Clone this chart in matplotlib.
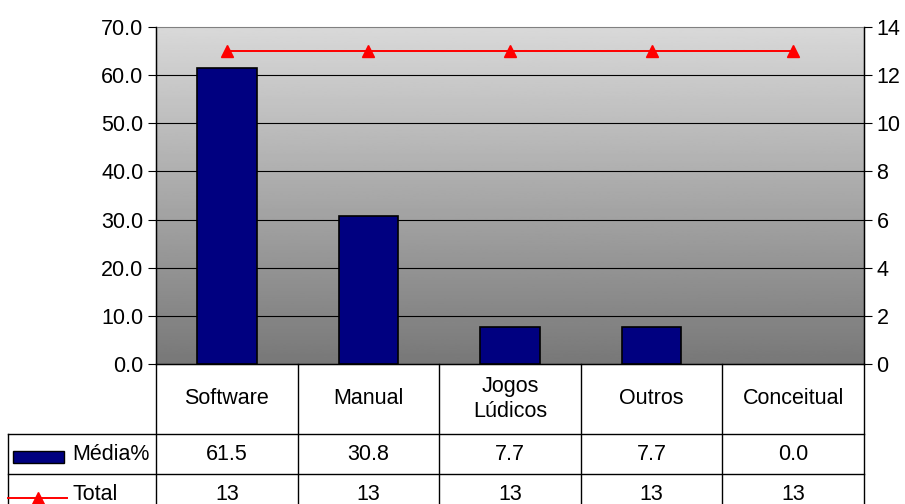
import numpy as np
import matplotlib
matplotlib.use("Agg")
import matplotlib.pyplot as plt
from matplotlib.lines import Line2D
from matplotlib.patches import Rectangle

categories = ["Software", "Manual", "Jogos\nLúdicos", "Outros", "Conceitual"]
media = [61.5, 30.8, 7.7, 7.7, 0.0]
total = [13, 13, 13, 13, 13]
media_labels = ["61.5", "30.8", "7.7", "7.7", "0.0"]
total_labels = ["13", "13", "13", "13", "13"]

plt.rcParams["font.family"] = ["Liberation Sans", "DejaVu Sans"]
FS = 15.5

W, H = 905, 504
fig = plt.figure(figsize=(W / 100, H / 100), dpi=100)
fig.patch.set_facecolor("white")

x0, x1, ytop, ybot = 156, 864, 27, 364
ax = fig.add_axes([x0 / W, (H - ybot) / H, (x1 - x0) / W, (ybot - ytop) / H])

def yfrac(py):
    # figure pixel row -> axes fraction
    return (ybot - py) / (ybot - ytop)

# gradient background
grad = np.linspace(0.47, 0.85, 256).reshape(-1, 1)
ax.imshow(grad, extent=[0, 1, 0, 1], transform=ax.transAxes, cmap="gray",
          vmin=0, vmax=1, aspect="auto", origin="lower", zorder=0)

n = len(categories)
x = np.arange(n)
edges = ["black" if v > 0 else "none" for v in media]
ax.bar(x, media, width=0.42, color="#000080", edgecolor=edges, linewidth=1.2, zorder=3)
ax.set_xlim(-0.5, n - 0.5)
ax.set_ylim(0, 70)
ax.set_yticks(np.arange(0, 71, 10))
ax.set_yticklabels([f"{v:.1f}" for v in np.arange(0, 71, 10)], fontsize=FS)
ax.set_xticks([])
for v in range(10, 70, 10):
    ax.axhline(v, color="black", lw=0.8, zorder=1)
ax.tick_params(axis="y", direction="out", length=6, width=0.8, pad=3)
ax.spines["top"].set_color("#808080")
for s in ["left", "bottom", "right"]:
    ax.spines[s].set_color("black")
    ax.spines[s].set_linewidth(1.0)

ax2 = ax.twinx()
ax2.plot(x, total, color="red", lw=1.4, marker="^", markersize=9, zorder=4)
ax2.set_ylim(0, 14)
ax2.set_yticks(np.arange(0, 15, 2))
ax2.set_yticklabels([str(v) for v in range(0, 15, 2)], fontsize=FS)
ax2.tick_params(axis="y", direction="out", length=6, width=0.8, pad=3)
ax2.spines["top"].set_visible(False)
ax2.spines["right"].set_color("black")

# data table below the plot
r1, r2, r3 = 434, 474, 504
kw = dict(transform=ax.transAxes, color="black", lw=1.0, clip_on=False)
tx = lambda px: (px - x0) / (x1 - x0)
ax.add_line(Line2D([tx(8), 1], [yfrac(r1), yfrac(r1)], **kw))
ax.add_line(Line2D([tx(8), 1], [yfrac(r2), yfrac(r2)], **kw))
ax.add_line(Line2D([tx(8), tx(8)], [yfrac(r1), yfrac(r3 + 5)], **kw))
for i in range(n + 1):
    xf = i / n
    ax.add_line(Line2D([xf, xf], [0, yfrac(r3 + 5)], **kw))

for i in range(n):
    xc = (i + 0.5) / n
    ax.text(xc, yfrac((ybot + r1) / 2), categories[i], transform=ax.transAxes,
            ha="center", va="center", fontsize=FS, linespacing=1.25)
    ax.text(xc, yfrac((r1 + r2) / 2), media_labels[i], transform=ax.transAxes,
            ha="center", va="center", fontsize=FS)
    ax.text(xc, yfrac(494), total_labels[i], transform=ax.transAxes,
            ha="center", va="center", fontsize=FS)

# legend keys in table
ax.add_patch(Rectangle((tx(13), yfrac(463)), tx(64) - tx(13), yfrac(451) - yfrac(463),
                       transform=ax.transAxes, facecolor="#000080", edgecolor="black",
                       lw=1.0, clip_on=False))
ax.text(tx(72), yfrac(455), "Média%", transform=ax.transAxes, ha="left", va="center", fontsize=FS)
ax.add_line(Line2D([tx(8), tx(67)], [yfrac(498), yfrac(498)], transform=ax.transAxes,
                   color="red", lw=1.4, clip_on=False))
ax.add_line(Line2D([tx(38)], [yfrac(498)], transform=ax.transAxes, color="red",
                   marker="^", markersize=9, clip_on=False))
ax.text(tx(72), yfrac(494), "Total", transform=ax.transAxes, ha="left", va="center", fontsize=FS)

fig.savefig("out.png", dpi=100)
